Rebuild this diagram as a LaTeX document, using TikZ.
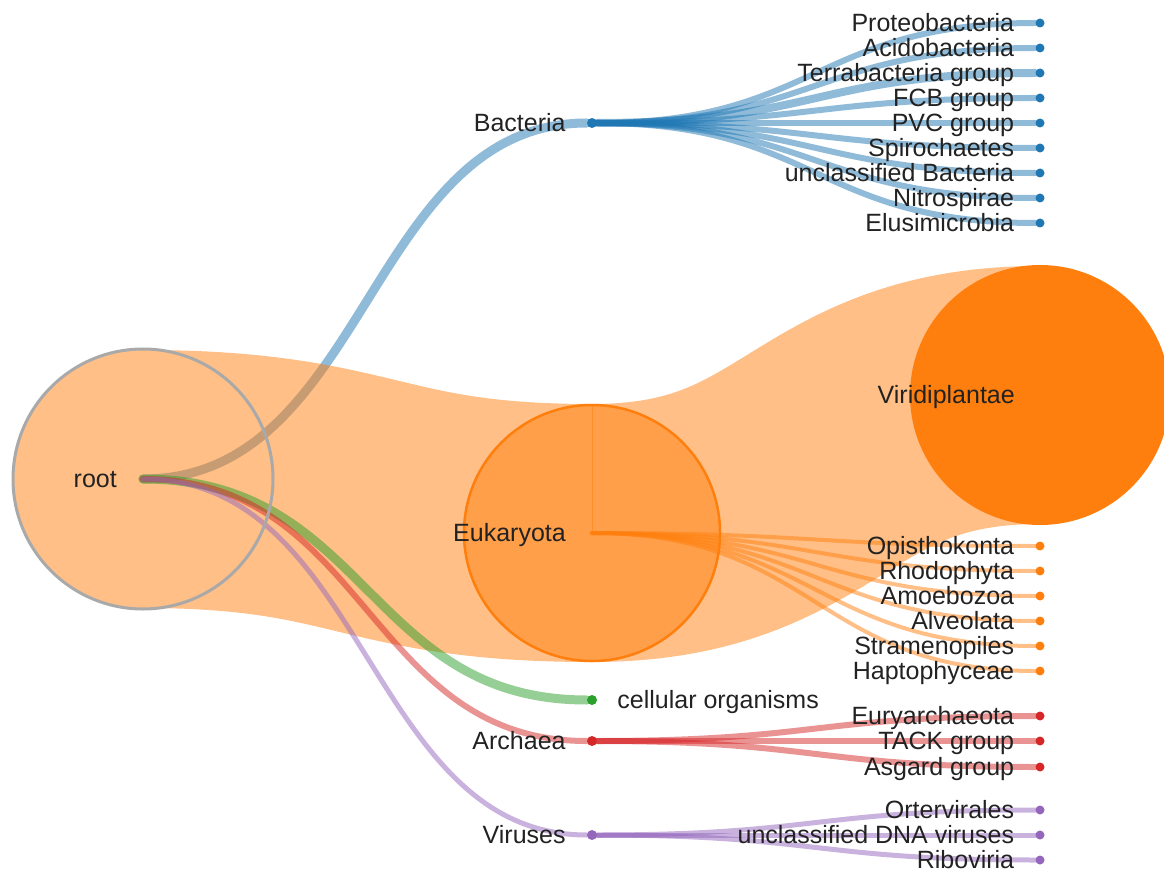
\documentclass[tikz,border=0pt]{standalone}
\usepackage{fontspec}
\setmainfont{Liberation Sans}
\usetikzlibrary{calc,positioning}

\definecolor{cblue}{HTML}{1F77B4}
\definecolor{corange}{HTML}{FF7F0E}
\definecolor{cgreen}{HTML}{2CA02C}
\definecolor{cred}{HTML}{D62728}
\definecolor{cpurple}{HTML}{9467BD}
\definecolor{rimgray}{HTML}{A9A9A9}
\definecolor{txtgray}{HTML}{222222}

\tikzset{
  hlink/.style={to path={.. controls ($(\tikztostart)!.5!(\tikztotarget|-\tikztostart)$)
      and ($(\tikztotarget)!.5!(\tikztostart|-\tikztotarget)$) .. (\tikztotarget)}}
}

\begin{document}
\begin{tikzpicture}[x=1pt,y=-1pt,
  lbl/.style={anchor=base east,yshift=-8.5pt,inner sep=0pt,text=txtgray,font=\fontsize{25}{30}\selectfont},
  lblr/.style={lbl,anchor=base west},
  dot/.style={circle,fill=#1,inner sep=0pt,minimum size=9pt},
  bigdot/.style={dot=#1,minimum size=10pt},
  link/.style={draw=#1,draw opacity=.5,line width=5pt,line cap=round}
  ]
    \useasboundingbox (0,0) rectangle (1164,874);

    \coordinate (root) at (143,479);
    \coordinate (euk) at (592,533);
    \coordinate (viri) at (1040,395);

    \node[bigdot=cblue] (bact) at (592,123) {};
    \node[bigdot=cgreen] (cell) at (592,700) {};
    \node[bigdot=cred] (arch) at (592,741) {};
    \node[bigdot=cpurple] (vir) at (592,835) {};

    \node[dot=cblue] (proteo) at (1040,23) {};
    \node[dot=cblue] (acido) at (1040,48) {};
    \node[dot=cblue] (terra) at (1040,73) {};
    \node[dot=cblue] (fcb) at (1040,98) {};
    \node[dot=cblue] (pvc) at (1040,123) {};
    \node[dot=cblue] (spiro) at (1040,148) {};
    \node[dot=cblue] (unbact) at (1040,173) {};
    \node[dot=cblue] (nitro) at (1040,198) {};
    \node[dot=cblue] (elusi) at (1040,223) {};

    \node[dot=corange] (opis) at (1040,546) {};
    \node[dot=corange] (rhodo) at (1040,571) {};
    \node[dot=corange] (amoe) at (1040,596) {};
    \node[dot=corange] (alveo) at (1040,621) {};
    \node[dot=corange] (strame) at (1040,646) {};
    \node[dot=corange] (hapto) at (1040,671) {};

    \node[dot=cred] (eury) at (1040,716) {};
    \node[dot=cred] (tack) at (1040,741) {};
    \node[dot=cred] (asgard) at (1040,767) {};

    \node[dot=cpurple] (orter) at (1040,810) {};
    \node[dot=cpurple] (undna) at (1040,835) {};
    \node[dot=cpurple] (ribo) at (1040,860) {};

    % links from root, in child order (the wide one is Eukaryota)
    \draw[link=cblue,line width=9pt] (root) edge[hlink] (bact);
    \draw[link=corange,line width=258pt] (root) edge[hlink] (euk) (euk) edge[hlink] (viri);
    \draw[link=cgreen,line width=9pt] (root) edge[hlink] (cell);
    \draw[link=cred,line width=6pt] (root) edge[hlink] (arch);
    \draw[link=cpurple,line width=5pt] (root) edge[hlink] (vir);

    \node[circle,draw=rimgray,line width=3pt,inner sep=0pt,minimum size=260pt] (rootc) at (root) {};
    \node[circle,draw=corange,line width=2.5pt,inner sep=0pt,minimum size=256pt] (eukc) at (euk) {};
    \draw[corange,line width=1pt,opacity=.5] (euk) -- (eukc.north);
    \node[circle,fill=corange,inner sep=0pt,minimum size=260pt] (viric) at (viri) {};

    \draw[link=cblue,line width=6pt] (bact) edge[hlink] (proteo) edge[hlink] (acido)
        edge[hlink,line width=8pt] (terra) edge[hlink] (fcb) edge[hlink] (pvc)
        edge[hlink] (spiro) edge[hlink] (unbact) edge[hlink] (nitro) edge[hlink] (elusi);
    \draw[link=corange,line width=4pt] (euk) edge[hlink] (opis) edge[hlink] (rhodo)
        edge[hlink] (amoe) edge[hlink] (alveo) edge[hlink] (strame) edge[hlink] (hapto);
    \draw[link=cred,line width=6pt] (arch) edge[hlink] (eury) edge[hlink] (tack) edge[hlink] (asgard);
    \draw[link=cpurple,line width=5pt] (vir) edge[hlink] (orter) edge[hlink] (undna) edge[hlink] (ribo);

    % labels
    \node[left=26pt of root,lbl] (root-l) {root};
    \node[left=26pt of euk,lbl] (euk-l) {Eukaryota};
    \node[left=25pt of viri,lbl] (viri-l) {Viridiplantae};
    \node[left=21pt of bact,lbl] (bact-l) {Bacteria};
    \node[right=20pt of cell,lblr] (cell-l) {cellular organisms};
    \node[left=21pt of arch,lbl] (arch-l) {Archaea};
    \node[left=21pt of vir,lbl] (vir-l) {Viruses};

    \node[left=21pt of proteo,lbl] (proteo-l) {Proteobacteria};
    \node[left=21pt of acido,lbl] (acido-l) {Acidobacteria};
    \node[left=21pt of terra,lbl] (terra-l) {Terrabacteria group};
    \node[left=21pt of fcb,lbl] (fcb-l) {FCB group};
    \node[left=21pt of pvc,lbl] (pvc-l) {PVC group};
    \node[left=21pt of spiro,lbl] (spiro-l) {Spirochaetes};
    \node[left=21pt of unbact,lbl] (unbact-l) {unclassified Bacteria};
    \node[left=21pt of nitro,lbl] (nitro-l) {Nitrospirae};
    \node[left=21pt of elusi,lbl] (elusi-l) {Elusimicrobia};

    \node[left=21pt of opis,lbl] (opis-l) {Opisthokonta};
    \node[left=21pt of rhodo,lbl] (rhodo-l) {Rhodophyta};
    \node[left=21pt of amoe,lbl] (amoe-l) {Amoebozoa};
    \node[left=21pt of alveo,lbl] (alveo-l) {Alveolata};
    \node[left=21pt of strame,lbl] (strame-l) {Stramenopiles};
    \node[left=21pt of hapto,lbl] (hapto-l) {Haptophyceae};

    \node[left=21pt of eury,lbl] (eury-l) {Euryarchaeota};
    \node[left=21pt of tack,lbl] (tack-l) {TACK group};
    \node[left=21pt of asgard,lbl] (asgard-l) {Asgard group};

    \node[left=21pt of orter,lbl] (orter-l) {Ortervirales};
    \node[left=21pt of undna,lbl] (undna-l) {unclassified DNA viruses};
    \node[left=21pt of ribo,lbl] (ribo-l) {Riboviria};
\end{tikzpicture}
\end{document}
